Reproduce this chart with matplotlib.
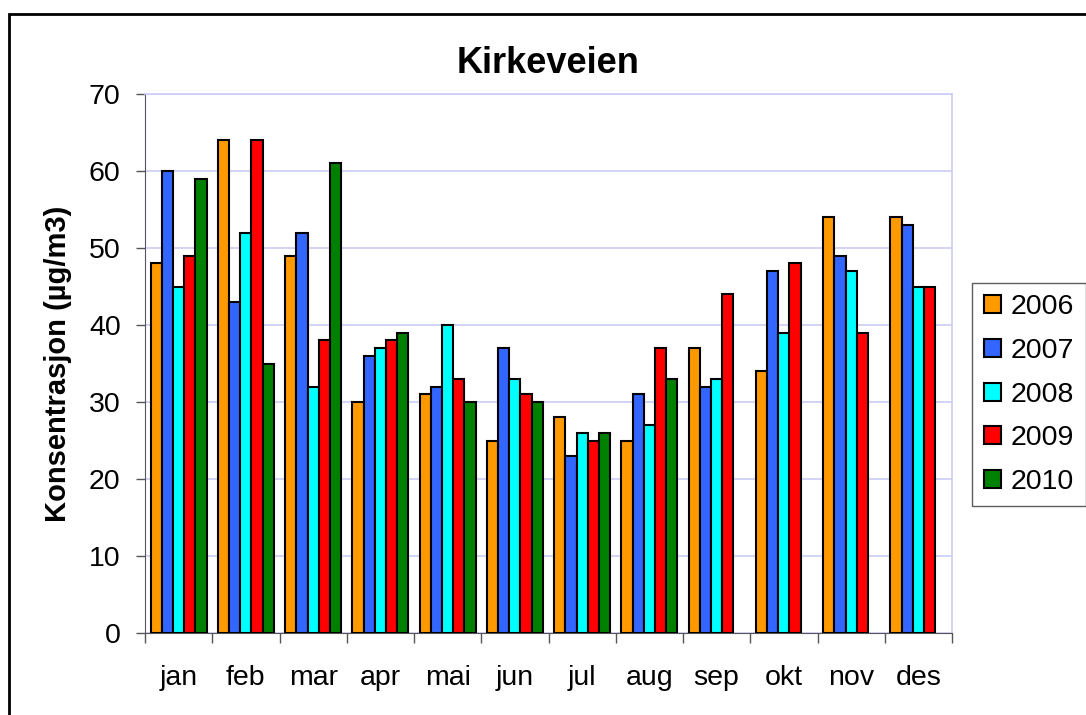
import numpy as np
import matplotlib
matplotlib.use("Agg")
import matplotlib.pyplot as plt
from matplotlib.patches import Rectangle

plt.rcParams['font.family'] = ['Liberation Sans', 'DejaVu Sans']

months = ['jan', 'feb', 'mar', 'apr', 'mai', 'jun', 'jul', 'aug', 'sep', 'okt', 'nov', 'des']
years = ['2006', '2007', '2008', '2009', '2010']

# monthly means per year (NaN = no data yet)
v2006 = [48, 64, 49, 30, 31, 25, 28, 25, 37, 34, 54, 54]
v2007 = [60, 43, 52, 36, 32, 37, 23, 31, 32, 47, 49, 53]
v2008 = [45, 52, 32, 37, 40, 33, 26, 27, 33, 39, 47, 45]
v2009 = [49, 64, 38, 38, 33, 31, 25, 37, 44, 48, 39, 45]
v2010 = [59, 35, 61, 39, 30, 30, 26, 33, np.nan, np.nan, np.nan, np.nan]
series = [v2006, v2007, v2008, v2009, v2010]
colors = ['#FF9900', '#3366FF', '#00FFFF', '#FF0000', '#008000']

W, H = 1086, 715
fig = plt.figure(figsize=(W / 100, H / 100), dpi=100)
ax = fig.add_axes([145 / W, 1 - 633 / H, (952 - 145) / W, (633 - 94) / H])

x = np.arange(len(months))
bw = 1 / 6
for i, (vals, c, yr) in enumerate(zip(series, colors, years)):
    ax.bar(x + (i - 2) * bw, vals, width=bw, color=c, edgecolor='black',
           linewidth=1.5, label=yr, zorder=3)

ax.set_xlim(-0.5, 11.5)
ax.set_ylim(0, 70)
ax.set_yticks(range(0, 71, 10))
ax.yaxis.grid(True, color='#ccccf5', linewidth=1.2, zorder=0)
ax.tick_params(axis='y', labelsize=20.5, length=6.5, width=1, color='#555555', pad=11)

ax.set_xticks(x)
ax.set_xticklabels(months)
ax.set_xticks(np.arange(-0.5, 12, 1), minor=True)
ax.tick_params(axis='x', which='major', length=0, labelsize=20.5, pad=23)
ax.tick_params(axis='x', which='minor', length=7, width=1, color='#555555')

for s in ['top', 'right']:
    ax.spines[s].set_color('#ccccf5')
    ax.spines[s].set_linewidth(1.2)
ax.spines['left'].set_color('#555566')
ax.spines['bottom'].set_color('#555555')

ax.set_title('Kirkeveien', fontsize=26, fontweight='bold', pad=15)
ax.set_ylabel('Konsentrasjon (µg/m3)', fontsize=21, fontweight='bold', labelpad=12)

leg = fig.legend(loc='upper right', bbox_to_anchor=(1085.5 / W, 1 - 283 / H),
                 fontsize=20.5, frameon=True, fancybox=False, edgecolor='#333333',
                 handlelength=0.6, handleheight=0.6, handletextpad=0.35,
                 labelspacing=0.62, borderpad=0.4, borderaxespad=0)
leg.get_frame().set_linewidth(1.0)

# outer frame around the chart
fig.patches.append(Rectangle((9 / W, -0.1), 2, 1.1 - 14 / H, transform=fig.transFigure,
                             fill=False, edgecolor='black', linewidth=2))

fig.savefig('out.png', dpi=100)
